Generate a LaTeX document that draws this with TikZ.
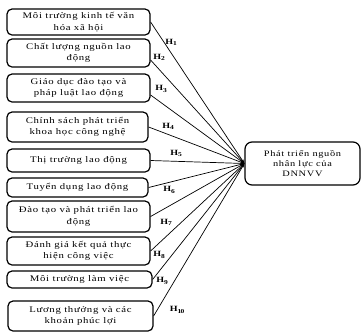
\documentclass[tikz,border=0pt]{standalone}
\usepackage{fontspec}
\setmainfont{Liberation Serif}[LetterSpace=8, FakeStretch=1.25]
\usetikzlibrary{arrows.meta}
\tikzset{
  factor/.style={draw, line width=1.2pt, rounded corners=5pt, inner sep=0pt,
    align=center, font=\fontsize{8.6}{11.5}\selectfont},
  goal/.style={draw, line width=1.2pt, rounded corners=7pt, inner sep=0pt,
    align=center, font=\fontsize{8.3}{10}\selectfont},
  link/.style={line width=0.7pt, -{Stealth[length=4pt,width=2.6pt]}},
  hlab/.style={font=\fontsize{8}{9}\selectfont\bfseries, inner sep=0pt}
}
\begin{document}
\begin{tikzpicture}[x=1pt,y=-1pt]
\useasboundingbox (0,0) rectangle (362,333);
% factor boxes (left column)
\node[factor, minimum width=143pt, minimum height=26pt] (b1) at (78.5,22) {Môi trường kinh tế văn\\hóa xã hội};
\node[factor, minimum width=143pt, minimum height=28pt] (b2) at (78.5,53) {Chất lượng nguồn lao\\động};
\node[factor, minimum width=143pt, minimum height=28pt] (b3) at (78.5,88) {Giáo dục đào tạo và\\pháp luật lao động};
\node[factor, minimum width=141pt, minimum height=30pt] (b4) at (77.5,127) {Chính sách phát triển\\khoa học công nghệ};
\node[factor, minimum width=143pt, minimum height=23pt] (b5) at (78.5,160.5) {Thị trường lao động};
\node[factor, minimum width=141pt, minimum height=19pt] (b6) at (77.5,187.5) {Tuyển dụng lao động};
\node[factor, minimum width=143pt, minimum height=31pt] (b7) at (78.5,216.5) {Đào tạo và phát triển lao\\động};
\node[factor, minimum width=143pt, minimum height=28pt] (b8) at (78.5,251) {Đánh giá kết quả thực\\hiện công việc};
\node[factor, minimum width=145pt, minimum height=17pt] (b9) at (79.5,279.5) {Môi trường làm việc};
\node[factor, minimum width=145pt, minimum height=30pt] (b10) at (80.5,316) {Lương thưởng và các\\khoản phúc lợi};
% outcome box
\node[goal, minimum width=115pt, minimum height=43pt] (r) at (302.5,163.5) {Phát triển nguồn\\nhân lực của\\DNNVV};
% hypothesised links
\draw[link] (b1.east) -- (r.west);
\draw[link] ([yshift=-7pt]b2.east) -- (r.west);
\draw[link] ([yshift=-7pt]b3.east) -- (r.west);
\draw[link] (b4.east) -- (r.west);
\draw[link] (b5.east) -- (r.west);
\draw[link] (b6.east) -- (r.west);
\draw[link] (b7.east) -- (r.west);
\draw[link] (b8.east) -- (r.west);
\draw[link] (b9.east) -- (r.west);
\draw[link] (b10.east) -- (r.west);
% hypothesis labels
\node[hlab] (h1) at (171,42) {H$_{\mathbf{1}}$};
\node[hlab] (h2) at (159,57) {H$_{\mathbf{2}}$};
\node[hlab] (h3) at (161,89) {H$_{\mathbf{3}}$};
\node[hlab] (h4) at (168,126) {H$_{\mathbf{4}}$};
\node[hlab] (h5) at (176,153) {H$_{\mathbf{5}}$};
\node[hlab] (h6) at (169,190) {H$_{\mathbf{6}}$};
\node[hlab] (h7) at (166,222) {H$_{\mathbf{7}}$};
\node[hlab] (h8) at (159,255) {H$_{\mathbf{8}}$};
\node[hlab] (h9) at (162,281) {H$_{\mathbf{9}}$};
\node[hlab] (h10) at (177,310) {H$_{\mathbf{10}}$};
\end{tikzpicture}
\end{document}
